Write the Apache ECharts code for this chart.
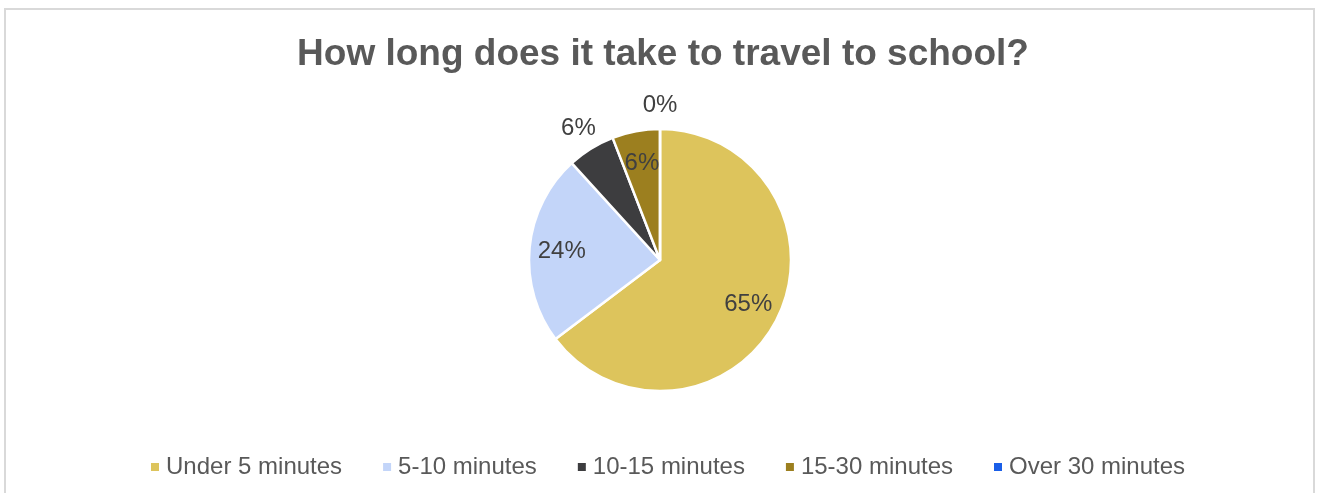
<!DOCTYPE html>
<html>
<head>
<meta charset="utf-8">
<script src="https://cdn.jsdelivr.net/npm/echarts@6/dist/echarts.min.js"></script>
<style>
  html, body { margin: 0; padding: 0; background: #ffffff; }
  #chart { width: 1317px; height: 493px; }
</style>
</head>
<body>
<div id="chart"></div>
<script>
// Survey answers: number of pupils per travel time band
const categories = ['Under 5 minutes', '5-10 minutes', '10-15 minutes', '15-30 minutes', 'Over 30 minutes'];
const counts = [11, 4, 1, 1, 0];
const colors = ['#DDC45C', '#C3D5F9', '#3D3D3F', '#9C7F1F', '#1A5EE8'];
// Which slices carry their percentage label outside the pie
const labelOutside = [false, false, true, false, true];

const FONT = '"Liberation Sans", Arial, sans-serif';
const CENTER = [660, 260];
const R = 131;

const total = counts.reduce((a, b) => a + b, 0);
const pctLabel = p => Math.round(p.value / total * 100) + '%';

const slices = categories.map((name, i) => ({
  name, value: counts[i], itemStyle: { color: colors[i] }
}));

// transparent ring series that only carry the data labels
function labelRing(radius, outside) {
  return {
    type: 'pie',
    silent: true,
    center: CENTER,
    radius: radius,
    startAngle: 90,
    clockwise: true,
    avoidLabelOverlap: false,
    minShowLabelAngle: 0,
    itemStyle: { color: 'rgba(0,0,0,0)', borderWidth: 0 },
    emphasis: { disabled: true },
    labelLine: { show: false },
    data: categories.map((name, i) => ({
      name, value: counts[i],
      label: {
        show: labelOutside[i] === outside,
        position: 'inside',
        formatter: pctLabel,
        color: '#404040',
        fontSize: 24,
        fontFamily: FONT
      }
    }))
  };
}

const chart = echarts.init(document.getElementById('chart'), null, { renderer: 'canvas' });
chart.setOption({
  animation: false,
  backgroundColor: '#ffffff',
  title: {
    text: 'How long does it take to travel to school?',
    left: 658,
    textAlign: 'center',
    top: 31,
    textStyle: { color: '#595959', fontSize: 37, fontWeight: 'bold', fontFamily: FONT }
  },
  legend: {
    data: categories,
    left: 146,
    top: 450,
    icon: 'rect',
    itemWidth: 8,
    itemHeight: 8,
    itemGap: 41,
    itemStyle: { borderWidth: 0 },
    textStyle: { color: '#595959', fontSize: 24, fontFamily: FONT, padding: [0, 0, 0, 2] }
  },
  graphic: [{
    type: 'rect',
    shape: { x: 5, y: 9, width: 1309, height: 520 },
    style: { fill: 'none', stroke: '#D9D9D9', lineWidth: 2 },
    silent: true
  }],
  series: [
    {
      type: 'pie',
      center: CENTER,
      radius: [0, R],
      startAngle: 90,
      clockwise: true,
      label: { show: false },
      labelLine: { show: false },
      itemStyle: { borderColor: '#ffffff', borderWidth: 2.5 },
      emphasis: { disabled: true },
      data: slices
    },
    labelRing([R * 0.46, R], false),
    labelRing([R, R * 1.32], true)
  ]
});
</script>
</body>
</html>
